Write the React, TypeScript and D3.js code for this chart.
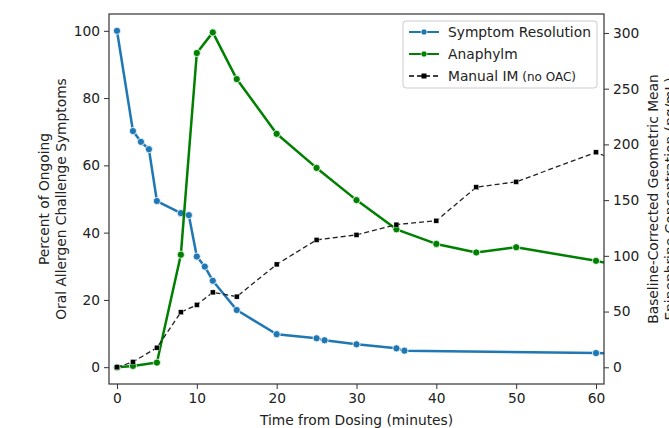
import React, { useRef, useEffect } from 'react';
import * as d3 from 'd3';

const symptomTimes = [0, 2, 3, 4, 5, 8, 9, 10, 11, 12, 15, 20, 25, 26, 30, 35, 36, 60, 90];
const symptomPct = [100, 70.2, 67, 64.8, 49.4, 45.8, 45.2, 32.9, 29.9, 25.7, 17, 9.8, 8.6, 8, 6.8, 5.6, 4.9, 4.2, 3.4];

const anaTimes = [0, 2, 5, 8, 10, 12, 15, 20, 25, 30, 35, 40, 45, 50, 60, 90];
const anaConc = [0, 1.2, 4.2, 101, 282, 300.5, 258.6, 209.5, 178.9, 150, 123.8, 110.7, 103, 107.7, 95.5, 52];

const imTimes = [0, 2, 5, 8, 10, 12, 15, 20, 25, 30, 35, 40, 45, 50, 60, 90];
const imConc = [0, 4.8, 17.6, 49.4, 56, 67.2, 63.4, 92.3, 114.3, 118.8, 128, 131.5, 161.6, 166.4, 192.9, 103];

const xTicks = [0, 10, 20, 30, 40, 50, 60];
const leftTicks = [0, 20, 40, 60, 80, 100];
const rightTicks = [0, 50, 100, 150, 200, 250, 300];

const width = 669;
const height = 428;
const margin = { left: 109, right: 65, top: 14, bottom: 44 };
const font = 'DejaVu Sans, sans-serif';
const fs = '13.8px';

export default function App() {
    const ref = useRef<SVGSVGElement | null>(null);

    useEffect(() => {
        if (!ref.current) return;
        const svg = d3.select(ref.current);
        svg.selectAll('*').remove();

        const x = d3.scaleLinear().domain([-1, 61]).range([margin.left, width - margin.right]);
        const yL = d3.scaleLinear().domain([-5, 105]).range([height - margin.bottom, margin.top]);
        const yR = d3.scaleLinear().domain([-15, 317]).range([height - margin.bottom, margin.top]);

        const plotW = width - margin.left - margin.right;
        const plotH = height - margin.top - margin.bottom;

        svg.append('defs').append('clipPath').attr('id', 'plot-clip')
            .append('rect')
            .attr('x', margin.left).attr('y', margin.top)
            .attr('width', plotW).attr('height', plotH);

        const plot = svg.append('g').attr('clip-path', 'url(#plot-clip)');

        const symptom = symptomTimes.map((t, i) => [t, symptomPct[i]] as [number, number]);
        const ana = anaTimes.map((t, i) => [t, anaConc[i]] as [number, number]);
        const im = imTimes.map((t, i) => [t, imConc[i]] as [number, number]);

        const lineL = d3.line<[number, number]>().x(d => x(d[0])).y(d => yL(d[1]));
        const lineR = d3.line<[number, number]>().x(d => x(d[0])).y(d => yR(d[1]));

        // blue: symptom resolution
        plot.append('path').datum(symptom)
            .attr('d', lineL).attr('fill', 'none')
            .attr('stroke', '#1f77b4').attr('stroke-width', 2.5).attr('stroke-linejoin', 'round');
        plot.selectAll('circle.sym').data(symptom).enter().append('circle')
            .attr('class', 'sym')
            .attr('cx', d => x(d[0])).attr('cy', d => yL(d[1])).attr('r', 3.6)
            .attr('fill', '#1f77b4').attr('stroke', '#fff').attr('stroke-width', 0.8);

        // green: anaphylm
        plot.append('path').datum(ana)
            .attr('d', lineR).attr('fill', 'none')
            .attr('stroke', '#008000').attr('stroke-width', 2.5).attr('stroke-linejoin', 'round');
        plot.selectAll('circle.ana').data(ana).enter().append('circle')
            .attr('class', 'ana')
            .attr('cx', d => x(d[0])).attr('cy', d => yR(d[1])).attr('r', 3.6)
            .attr('fill', '#008000').attr('stroke', '#fff').attr('stroke-width', 0.8);

        // black dashed: manual IM
        plot.append('path').datum(im)
            .attr('d', lineR).attr('fill', 'none')
            .attr('stroke', '#222').attr('stroke-width', 1.3).attr('stroke-dasharray', '5,3');
        plot.selectAll('rect.im').data(im).enter().append('rect')
            .attr('class', 'im')
            .attr('x', d => x(d[0]) - 2.5).attr('y', d => yR(d[1]) - 2.5)
            .attr('width', 5).attr('height', 5)
            .attr('fill', '#000').attr('stroke', '#fff').attr('stroke-width', 0.4);

        // frame
        svg.append('rect')
            .attr('x', margin.left).attr('y', margin.top)
            .attr('width', plotW).attr('height', plotH)
            .attr('fill', 'none').attr('stroke', '#333').attr('stroke-width', 1.2);

        const styleAxis = (g: any) => {
            g.select('.domain').remove();
            g.selectAll('.tick line').attr('stroke', '#333').attr('stroke-width', 1);
            g.selectAll('.tick text').attr('fill', '#222').style('font-family', font).style('font-size', fs);
        };

        svg.append('g')
            .attr('transform', `translate(0, ${height - margin.bottom})`)
            .call(d3.axisBottom(x).tickValues(xTicks).tickSize(5).tickPadding(4))
            .call(styleAxis);

        svg.append('g')
            .attr('transform', `translate(${margin.left}, 0)`)
            .call(d3.axisLeft(yL).tickValues(leftTicks).tickSize(5).tickPadding(4))
            .call(styleAxis);

        svg.append('g')
            .attr('transform', `translate(${width - margin.right}, 0)`)
            .call(d3.axisRight(yR).tickValues(rightTicks).tickSize(5).tickPadding(4))
            .call(styleAxis);

        // axis labels
        svg.append('text')
            .attr('x', x(30)).attr('y', 425)
            .attr('text-anchor', 'middle')
            .style('font-family', font).style('font-size', fs).attr('fill', '#222')
            .text('Time from Dosing (minutes)');

        const midY = margin.top + plotH / 2;
        const leftLabel = svg.append('text')
            .attr('transform', `translate(49, ${midY}) rotate(-90)`)
            .attr('text-anchor', 'middle')
            .style('font-family', font).style('font-size', fs).attr('fill', '#222');
        leftLabel.append('tspan').attr('x', 0).attr('dy', 0).text('Percent of Ongoing');
        leftLabel.append('tspan').attr('x', 0).attr('dy', 17).text('Oral Allergen Challenge Symptoms');

        const rightLabel = svg.append('text')
            .attr('transform', `translate(658, ${midY}) rotate(-90)`)
            .attr('text-anchor', 'middle')
            .style('font-family', font).style('font-size', fs).attr('fill', '#222');
        rightLabel.append('tspan').attr('x', 0).attr('dy', 0).text('Baseline-Corrected Geometric Mean');
        rightLabel.append('tspan').attr('x', 0).attr('dy', 17).text('Epinephrine Concentration (pg/mL)');

        // legend
        const legend = svg.append('g').attr('transform', 'translate(403, 21)');
        legend.append('rect')
            .attr('width', 194).attr('height', 67).attr('rx', 3)
            .attr('fill', '#fff').attr('fill-opacity', 0.85)
            .attr('stroke', '#ccc').attr('stroke-width', 1);

        const entries = [
            { label: 'Symptom Resolution', color: '#1f77b4', dash: null, marker: 'circle' },
            { label: 'Anaphylm', color: '#008000', dash: null, marker: 'circle' },
            { label: 'Manual IM', color: '#000', dash: '5,3', marker: 'square' },
        ];

        entries.forEach((e, i) => {
            const cy = 11 + i * 22;
            const row = legend.append('g').attr('transform', `translate(0, ${cy})`);
            row.append('line')
                .attr('x1', 6).attr('x2', 36).attr('y1', 0).attr('y2', 0)
                .attr('stroke', e.color)
                .attr('stroke-width', e.dash ? 1.5 : 2)
                .attr('stroke-dasharray', e.dash);
            if (e.marker === 'circle') {
                row.append('circle').attr('cx', 21).attr('cy', 0).attr('r', 3)
                    .attr('fill', e.color).attr('stroke', '#fff').attr('stroke-width', 0.6);
            } else {
                row.append('rect').attr('x', 18.5).attr('y', -2.5).attr('width', 5).attr('height', 5)
                    .attr('fill', '#000');
            }
            const t = row.append('text')
                .attr('x', 45).attr('y', 5)
                .style('font-family', font).style('font-size', fs).attr('fill', '#222')
                .text(e.label);
            if (i === 2) {
                t.append('tspan').style('font-size', '12px').text(' (no OAC)');
            }
        });
    }, []);

    return (
        <svg ref={ref} width={width} height={height}
            style={{ display: 'block', position: 'absolute', left: 0, top: 0, background: '#fff' }} />
    );
}
